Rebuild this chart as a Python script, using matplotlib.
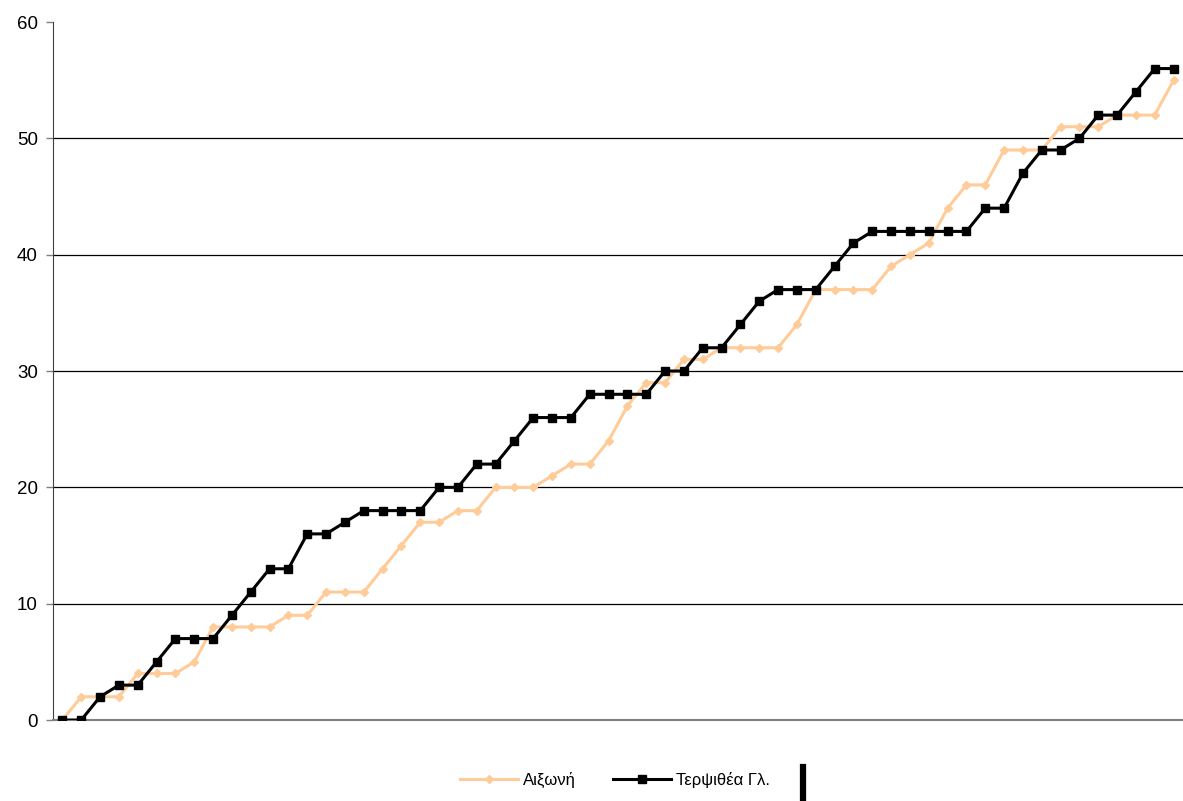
import matplotlib
matplotlib.use("Agg")
import matplotlib.pyplot as plt
from matplotlib.lines import Line2D

plt.rcParams['font.family'] = ['Liberation Sans', 'DejaVu Sans']

# cumulative counts, one value per step
aixoni = [0, 2, 2, 2, 4, 4, 4, 5, 8, 8,
          8, 8, 9, 9, 11, 11, 11, 13, 15, 17,
          17, 18, 18, 20, 20, 20, 21, 22, 22, 24,
          27, 29, 29, 31, 31, 32, 32, 32, 32, 34,
          37, 37, 37, 37, 39, 40, 41, 44, 46, 46,
          49, 49, 49, 51, 51, 51, 52, 52, 52, 55]
terpsithea = [0, 0, 2, 3, 3, 5, 7, 7, 7, 9,
              11, 13, 13, 16, 16, 17, 18, 18, 18, 18,
              20, 20, 22, 22, 24, 26, 26, 26, 28, 28,
              28, 28, 30, 30, 32, 32, 34, 36, 37, 37,
              37, 39, 41, 42, 42, 42, 42, 42, 42, 44,
              44, 47, 49, 49, 50, 52, 52, 54, 56, 56]
labels = ['Αιξωνή', 'Τερψιθέα Γλ.']
y_ticks = [0, 10, 20, 30, 40, 50, 60]

x = list(range(len(aixoni)))

fig = plt.figure(figsize=(11.83, 8.01), dpi=100)
ax = fig.add_axes([0.0448, 0.1011, 0.9552, 0.8714])

# gridlines between the axis and the top, none drawn at the top itself
for t in y_ticks[1:-1]:
    ax.axhline(t, color='black', lw=0.9, zorder=1)

ax.plot(x, aixoni, color='#FFCC99', lw=2.2, marker='D', markersize=4,
        label=labels[0], zorder=3)
ax.plot(x, terpsithea, color='black', lw=2.2, marker='s', markersize=6,
        label=labels[1], zorder=4)

ax.set_xlim(-0.5, len(x) - 0.5)
ax.set_ylim(0, 60)
ax.set_yticks(y_ticks)
ax.set_xticks([])
ax.tick_params(axis='y', direction='out', length=5, width=1, color='#808080',
               labelsize=13.5, pad=6)
for side in ['top', 'right']:
    ax.spines[side].set_visible(False)
ax.spines['left'].set_color('#404040')
ax.spines['bottom'].set_color('#808080')
ax.spines['bottom'].set_linewidth(1.5)

leg = fig.legend(loc='center', bbox_to_anchor=(0.52, 0.026), ncol=2,
                 frameon=False, fontsize=12, handlelength=3.5,
                 columnspacing=2.2, handletextpad=0.3)

# stray vertical bar next to the legend
fig.add_artist(Line2D([0.679, 0.679], [0.0, 0.043], color='black', lw=4.5,
                      transform=fig.transFigure))

fig.savefig('out.png', dpi=100, facecolor='white')
